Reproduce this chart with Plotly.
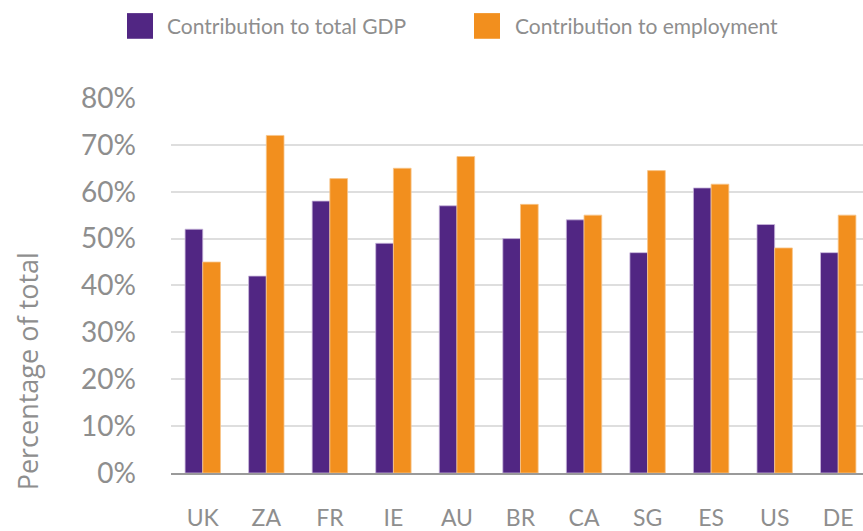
import plotly.graph_objects as go

countries = ["UK", "ZA", "FR", "IE", "AU", "BR", "CA", "SG", "ES", "US", "DE"]
gdp = [52, 42, 58, 49, 57, 50, 54, 47, 60.8, 53, 47]
employment = [45, 72, 62.8, 65, 67.5, 57.3, 55, 64.5, 61.6, 48, 55]
series_names = ["Contribution to total GDP", "Contribution to employment"]
y_ticks = [0, 10, 20, 30, 40, 50, 60, 70, 80]
y_tick_labels = [f"{v}%" for v in y_ticks]

PURPLE = "#512683"
ORANGE = "#f28f1e"
GRAY = "#8e8e8e"
FONT = "Lato, sans-serif"

fig = go.Figure()
fig.add_trace(go.Bar(x=countries, y=gdp, name=series_names[0],
                     marker=dict(color=PURPLE, line=dict(color="#c9b8dc", width=0.8))))
fig.add_trace(go.Bar(x=countries, y=employment, name=series_names[1],
                     marker=dict(color=ORANGE, line=dict(color="#f8c58a", width=0.8))))

W, H = 863, 531
ml, mr, mt, mb = 171, 0, 97, 53

fig.update_layout(
    width=W, height=H,
    margin=dict(l=ml, r=mr, t=mt, b=mb, pad=0),
    paper_bgcolor="white", plot_bgcolor="white",
    barmode="group", bargap=0.443, bargroupgap=0,
    showlegend=False,
    font=dict(family=FONT, color=GRAY),
    xaxis=dict(
        type="category", range=[-0.5, 10.39],
        showgrid=False, zeroline=False,
        showline=True, linecolor="#9a9a9a", linewidth=1.5,
        ticks="", tickfont=dict(size=23, color=GRAY, family=FONT),
        ticklabelstandoff=24,
    ),
    yaxis=dict(
        range=[0, 80.2], tickvals=y_ticks, ticktext=y_tick_labels,
        showgrid=True, gridcolor="#dedede", gridwidth=1.5,
        zeroline=False, showline=False, ticks="",
        tickfont=dict(size=28, color=GRAY, family=FONT),
        ticklabelstandoff=34,
    ),
)

# Y axis title
fig.add_annotation(text="Percentage of total", textangle=-90,
                   xref="paper", yref="paper",
                   x=(27 - ml) / (W - ml - mr), y=(H - mb - 375) / (H - mt - mb),
                   xanchor="center", yanchor="middle", showarrow=False,
                   font=dict(size=27, color=GRAY, family="Open Sans, sans-serif"))

# Manual legend
pw = W - ml - mr
ph = H - mt - mb
def px_x(p):
    return (p - ml) / pw
def px_y(p):
    return (H - mb - p) / ph

legend_items = [(127, 165, PURPLE, series_names[0]), (474, 513, ORANGE, series_names[1])]
for sq_x, tx, col, name in legend_items:
    fig.add_shape(type="rect", xref="paper", yref="paper",
                  x0=px_x(sq_x), x1=px_x(sq_x + 26), y0=px_y(12), y1=px_y(38),
                  fillcolor=col, line=dict(width=0))
    fig.add_annotation(text=name, xref="paper", yref="paper",
                       x=px_x(tx), y=px_y(25), xanchor="left", yanchor="middle",
                       showarrow=False, font=dict(size=21, color=GRAY, family=FONT))

fig.write_html("out.html", config={"displayModeBar": False},
               post_script="document.body.style.margin='0';document.body.style.overflow='hidden';")
